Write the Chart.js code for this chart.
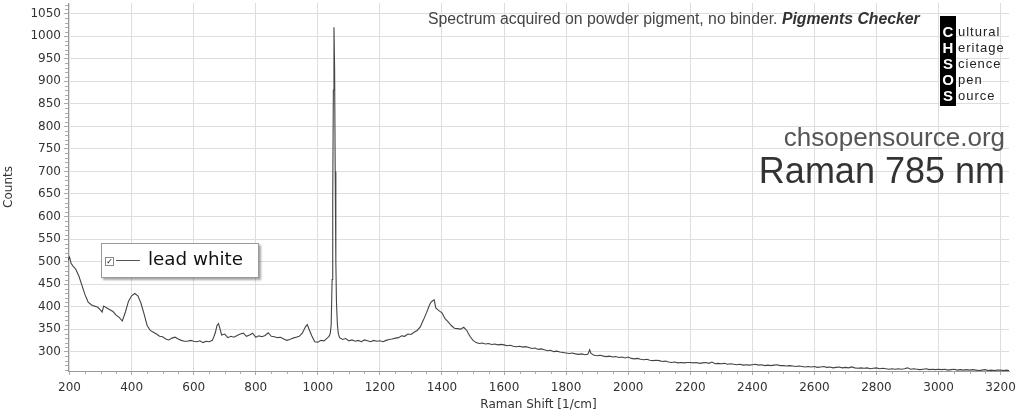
<!DOCTYPE html>
<html>
<head>
<meta charset="utf-8">
<script src="https://cdn.jsdelivr.net/npm/chart.js@4.4.0/dist/chart.umd.min.js"></script>
<style>
  body { margin: 0; background: #fff; }
  #wrap { position: relative; width: 1024px; height: 415px; overflow: hidden; }
  #myChart { position: absolute; left: 0; top: 0; }
  .txt { position: absolute; white-space: nowrap; font-family: 'Liberation Sans', Arial, sans-serif; }
  #note { left: 428px; top: 11px; font-size: 15.8px; line-height: 15.8px; color: #444; }
  #note b { font-style: italic; color: #333; }
  #site { right: 19px; top: 124px; font-size: 26px; line-height: 26px; color: #555; }
  #raman { right: 19px; top: 153px; font-size: 36px; line-height: 36px; color: #333; }
  #logo { position: absolute; left: 940px; top: 16px; width: 16px; height: 90px; background: #000; }
  .row { position: absolute; height: 16px; line-height: 16px; font-family: 'Liberation Sans', Arial, sans-serif; }
  .big { left: 0; width: 16px; text-align: center; color: #fff; font-weight: bold; font-size: 15px; }
  .small { left: 958px; color: #222; font-size: 13px; letter-spacing: 1px; }
  #legend { position: absolute; left: 101px; top: 243px; width: 156px; height: 33px; background: #fff;
            border: 1px solid #999; box-shadow: 2px 2px 2px rgba(0,0,0,0.35); }
  #chk { position: absolute; left: 3px; top: 13px; width: 7px; height: 7px; border: 1px solid #888;
         font-size: 8px; line-height: 7px; text-align: center; color: #000; font-weight: bold;
         font-family: 'DejaVu Sans', sans-serif; }
  #sample { position: absolute; left: 14px; top: 16px; width: 24px; height: 1px; background: #555; }
  #lname { position: absolute; left: 46px; top: 4px; font-family: 'DejaVu Sans', Verdana, sans-serif;
           font-size: 18.3px; line-height: 22px; color: #111; white-space: nowrap; }
</style>
</head>
<body>
<div id="wrap">
  <canvas id="myChart" width="1024" height="415"></canvas>
  <div class="txt" id="note">Spectrum acquired on powder pigment, no binder. <b>Pigments Checker</b></div>
  <div id="logo">
    <div class="row big" style="top:8px">C</div>
    <div class="row big" style="top:24px">H</div>
    <div class="row big" style="top:40px">S</div>
    <div class="row big" style="top:56px">O</div>
    <div class="row big" style="top:72px">S</div>
  </div>
  <div class="row small" style="top:24px">ultural</div>
  <div class="row small" style="top:40px">eritage</div>
  <div class="row small" style="top:56px">cience</div>
  <div class="row small" style="top:72px">pen</div>
  <div class="row small" style="top:88px">ource</div>
  <div class="txt" id="site">chsopensource.org</div>
  <div class="txt" id="raman">Raman 785 nm</div>
  <div id="legend">
    <div id="chk">&#10003;</div>
    <div id="sample"></div>
    <div id="lname">lead white</div>
  </div>
</div>
<script>
'use strict'
// Raman shift (1/cm) and counts
var shift = [
    195, 200, 205, 210, 220, 230, 240, 250, 260, 270,
    280, 290, 300, 305, 310, 320, 330, 340, 350, 360,
    370, 380, 390, 400, 410, 420, 430, 440, 450, 460,
    470, 480, 490, 500, 510, 520, 530, 540, 550, 560,
    570, 580, 590, 600, 610, 620, 630, 640, 650, 660,
    665, 670, 675, 680, 685, 690, 700, 710, 720, 730,
    740, 750, 760, 770, 780, 790, 800, 810, 820, 830,
    840, 850, 860, 870, 880, 890, 900, 910, 920, 930,
    940, 950, 955, 960, 966, 972, 980, 990, 1000, 1010,
    1020, 1030, 1036, 1040, 1043, 1046, 1048, 1050, 1052, 1054,
    1056, 1058, 1060, 1063, 1066, 1070, 1080, 1090, 1100, 1110,
    1120, 1130, 1140, 1150, 1160, 1170, 1180, 1190, 1200, 1210,
    1220, 1230, 1240, 1250, 1260, 1270, 1280, 1290, 1300, 1310,
    1320, 1330, 1340, 1350, 1360, 1365, 1370, 1375, 1380, 1390,
    1400, 1410, 1420, 1430, 1440, 1450, 1460, 1470, 1480, 1490,
    1500, 1510, 1520, 1530, 1540, 1550, 1560, 1570, 1580, 1590,
    1600, 1610, 1620, 1630, 1640, 1650, 1660, 1670, 1680, 1690,
    1700, 1710, 1720, 1730, 1740, 1750, 1760, 1770, 1780, 1790,
    1800, 1810, 1820, 1830, 1840, 1850, 1860, 1870, 1876, 1880,
    1890, 1900, 1910, 1920, 1930, 1940, 1950, 1960, 1970, 1980,
    1990, 2000, 2010, 2020, 2030, 2040, 2050, 2060, 2070, 2080,
    2090, 2100, 2110, 2120, 2130, 2140, 2150, 2160, 2170, 2180,
    2190, 2200, 2210, 2220, 2230, 2240, 2250, 2260, 2270, 2280,
    2290, 2300, 2310, 2320, 2330, 2340, 2350, 2360, 2370, 2380,
    2390, 2400, 2410, 2420, 2430, 2440, 2450, 2460, 2470, 2480,
    2490, 2500, 2510, 2520, 2530, 2540, 2550, 2560, 2570, 2580,
    2590, 2600, 2610, 2620, 2630, 2640, 2650, 2660, 2670, 2680,
    2690, 2700, 2710, 2720, 2730, 2740, 2750, 2760, 2770, 2780,
    2790, 2800, 2810, 2820, 2830, 2840, 2850, 2860, 2870, 2880,
    2890, 2900, 2910, 2920, 2930, 2940, 2950, 2960, 2970, 2980,
    2990, 3000, 3010, 3020, 3030, 3040, 3050, 3060, 3070, 3080,
    3090, 3100, 3110, 3120, 3130, 3140, 3150, 3160, 3170, 3180,
    3190, 3200, 3210, 3220, 3227
];
var counts = [
    503, 510, 496, 491, 483, 468, 447, 426, 410, 404,
    401, 399, 392, 388, 401, 397, 393, 389, 381, 376,
    368, 388, 412, 424, 429, 424, 408, 384, 358, 347,
    343, 339, 334, 333, 328, 326, 330, 332, 328, 325,
    323, 323, 325, 323, 322, 324, 320, 323, 322, 325,
    333, 343, 358, 362, 350, 337, 339, 331, 334, 332,
    336, 339, 341, 334, 337, 341, 332, 335, 333, 336,
    342, 334, 333, 331, 332, 328, 325, 327, 330, 332,
    334, 341, 348, 355, 360, 349, 336, 322, 321, 325,
    324, 330, 334, 340, 360, 460, 640, 880, 1020, 930,
    700, 500, 410, 360, 340, 331, 327, 329, 324, 326,
    323, 325, 322, 326, 324, 322, 325, 323, 324, 322,
    325, 327, 328, 330, 331, 335, 334, 339, 338, 343,
    347, 355, 370, 386, 404, 410, 413, 415, 397, 391,
    386, 373, 366, 358, 352, 351, 350, 354, 347, 334,
    325, 320, 318, 319, 317, 318, 316, 317, 315, 316,
    315, 313, 314, 312, 311, 312, 310, 311, 309, 307,
    308, 305, 306, 304, 302, 303, 300, 301, 299, 298,
    297, 296, 297, 295, 294, 295, 293, 294, 304, 296,
    292, 291, 292, 290, 289, 290, 288, 289, 287, 288,
    286, 288, 285, 284, 285, 283, 282, 283, 281, 280,
    281, 280, 278, 279, 277, 276, 277, 275, 276, 275,
    276, 276, 275, 276, 274, 275, 276, 274, 277, 273,
    274, 273, 274, 272, 273, 272, 271, 272, 270, 271,
    270, 271, 272, 270, 271, 269, 270, 269, 270, 271,
    269, 269, 268, 269, 268, 267, 268, 267, 266, 267,
    266, 267, 265, 266, 267, 265, 266, 264, 265, 266,
    264, 265, 264, 266, 264, 263, 264, 263, 264, 262,
    263, 264, 262, 263, 262, 261, 262, 261, 262, 261,
    262, 264, 261, 262, 261, 260, 261, 262, 260, 261,
    260, 261, 260, 261, 259, 260, 261, 259, 260, 259,
    260, 259, 260, 259, 258, 259, 260, 258, 259, 258,
    259, 259, 258, 259, 258
];
var xTicks = [200, 400, 600, 800, 1000, 1200, 1400, 1600, 1800, 2000, 2200, 2400, 2600, 2800, 3000, 3200];
var yTicks = [300, 350, 400, 450, 500, 550, 600, 650, 700, 750, 800, 850, 900, 950, 1000, 1050];

var points = [];
for (let i = 0; i < shift.length; i++) {
    points.push({ x: shift[i], y: counts[i] });
}

var tickFont = { family: "'DejaVu Sans', Verdana, sans-serif", size: 12 };

// small ticks between the labelled ones
var minorTicks = {
    id: 'minorTicks',
    afterDraw(chart) {
        var ctx = chart.ctx;
        var x = chart.scales.x;
        var y = chart.scales.y;
        var area = chart.chartArea;
        ctx.save();
        ctx.strokeStyle = '#aaa';
        ctx.lineWidth = 1;
        ctx.beginPath();
        for (let v = 250; v < x.max; v += 50) {
            if (v % 200 === 0) continue;
            let px = Math.round(x.getPixelForValue(v)) + 0.5;
            ctx.moveTo(px, area.bottom);
            ctx.lineTo(px, area.bottom + 3);
        }
        for (let v = 260; v < y.max; v += 10) {
            if (v % 50 === 0) continue;
            let py = Math.round(y.getPixelForValue(v)) + 0.5;
            ctx.moveTo(area.left - 3, py);
            ctx.lineTo(area.left, py);
        }
        ctx.stroke();
        ctx.restore();
    }
};

var ctx = document.getElementById('myChart').getContext('2d');
var chart = new Chart(ctx, {
    type: 'line',
    data: {
        datasets: [{
            label: 'lead white',
            data: points,
            borderColor: '#444',
            borderWidth: 1.1,
            pointRadius: 0,
            tension: 0,
            fill: false
        }]
    },
    options: {
        responsive: false,
        animation: false,
        events: [],
        layout: { padding: { top: 3, right: 15, left: 0, bottom: 0 } },
        plugins: {
            legend: { display: false },
            tooltip: { enabled: false }
        },
        scales: {
            x: {
                type: 'linear',
                min: 195,
                max: 3227,
                afterBuildTicks: function (s) { s.ticks = xTicks.map(v => ({ value: v })); },
                afterFit: function (s) { s.height = 44; },
                ticks: {
                    font: tickFont, color: '#333', padding: 6, maxRotation: 0, autoSkip: false,
                    callback: v => String(v)
                },
                grid: { color: '#dedede', tickColor: '#aaa', tickLength: 4 },
                border: { color: '#999' },
                title: {
                    display: true, text: 'Raman Shift [1/cm]', color: '#333',
                    font: tickFont, padding: { top: 0, bottom: 3 }
                }
            },
            y: {
                min: 257,
                max: 1074,
                afterBuildTicks: function (s) { s.ticks = yTicks.map(v => ({ value: v })); },
                afterFit: function (s) { s.width = 68; s.paddingTop = 0; s.paddingBottom = 0; },
                ticks: {
                    font: tickFont, color: '#333', padding: 3, autoSkip: false,
                    callback: v => String(v)
                },
                grid: { color: '#dedede', tickColor: '#aaa', tickLength: 4 },
                border: { color: '#999' },
                title: {
                    display: true, text: 'Counts', color: '#333',
                    font: tickFont, padding: { top: 2, bottom: 0 }
                }
            }
        }
    },
    plugins: [minorTicks]
});
</script>
</body>
</html>
